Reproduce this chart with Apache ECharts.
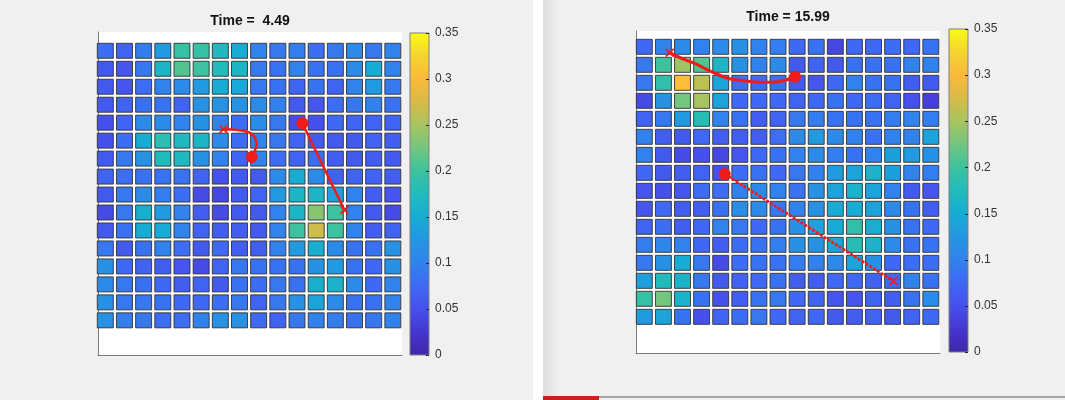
<!DOCTYPE html>
<html>
<head>
<meta charset="utf-8">
<script src="https://cdn.jsdelivr.net/npm/echarts@6/dist/echarts.min.js"></script>
<style>
  html, body { margin: 0; padding: 0; background: #f0f0f0; }
  #chart { width: 1065px; height: 400px; }
</style>
</head>
<body>
<div id="chart"></div>
<script>
// ---- data ---------------------------------------------------------------
const columns = [1, 2, 3, 4, 5, 6, 7, 8, 9, 10, 11, 12, 13, 14, 15, 16];
const rows    = [1, 2, 3, 4, 5, 6, 7, 8, 9, 10, 11, 12, 13, 14, 15, 16];
const colorbarTicks = [0, 0.05, 0.1, 0.15, 0.2, 0.25, 0.3, 0.35];
const timeA = '4.49';
const timeB = '15.99';

// cell values at t = 4.49 (row 1 = top)
const fieldA = [
  [0.08, 0.07, 0.095, 0.13, 0.195, 0.195, 0.17, 0.15, 0.1, 0.09, 0.095, 0.08, 0.09, 0.11, 0.09, 0.1],
  [0.06, 0.055, 0.09, 0.165, 0.21, 0.2, 0.175, 0.165, 0.09, 0.085, 0.1, 0.085, 0.085, 0.11, 0.15, 0.1],
  [0.06, 0.055, 0.08, 0.1, 0.11, 0.13, 0.15, 0.145, 0.09, 0.085, 0.07, 0.085, 0.07, 0.1, 0.13, 0.09],
  [0.06, 0.07, 0.085, 0.085, 0.07, 0.12, 0.12, 0.12, 0.11, 0.1, 0.06, 0.055, 0.08, 0.09, 0.1, 0.085],
  [0.05, 0.07, 0.11, 0.11, 0.1, 0.12, 0.1, 0.08, 0.11, 0.09, 0.045, 0.05, 0.075, 0.07, 0.07, 0.07],
  [0.05, 0.08, 0.15, 0.185, 0.17, 0.165, 0.11, 0.08, 0.1, 0.09, 0.07, 0.06, 0.06, 0.06, 0.07, 0.065],
  [0.06, 0.09, 0.12, 0.175, 0.17, 0.12, 0.1, 0.07, 0.1, 0.08, 0.07, 0.08, 0.065, 0.06, 0.065, 0.06],
  [0.07, 0.08, 0.085, 0.085, 0.085, 0.07, 0.05, 0.06, 0.06, 0.11, 0.15, 0.11, 0.07, 0.07, 0.07, 0.065],
  [0.06, 0.09, 0.11, 0.095, 0.08, 0.045, 0.04, 0.06, 0.07, 0.13, 0.165, 0.165, 0.135, 0.1, 0.065, 0.055],
  [0.045, 0.09, 0.155, 0.13, 0.1, 0.065, 0.045, 0.06, 0.06, 0.1, 0.165, 0.235, 0.2, 0.1, 0.06, 0.045],
  [0.06, 0.085, 0.15, 0.15, 0.1, 0.07, 0.065, 0.065, 0.06, 0.1, 0.2, 0.27, 0.2, 0.1, 0.065, 0.07],
  [0.09, 0.06, 0.085, 0.1, 0.08, 0.06, 0.075, 0.065, 0.065, 0.1, 0.13, 0.155, 0.11, 0.085, 0.085, 0.12],
  [0.12, 0.075, 0.07, 0.065, 0.055, 0.045, 0.07, 0.09, 0.085, 0.085, 0.085, 0.12, 0.13, 0.085, 0.075, 0.12],
  [0.11, 0.09, 0.085, 0.075, 0.065, 0.07, 0.06, 0.085, 0.08, 0.09, 0.085, 0.155, 0.16, 0.11, 0.075, 0.1],
  [0.12, 0.09, 0.09, 0.085, 0.075, 0.075, 0.08, 0.09, 0.07, 0.09, 0.12, 0.14, 0.11, 0.085, 0.085, 0.1],
  [0.12, 0.095, 0.09, 0.08, 0.08, 0.1, 0.12, 0.12, 0.075, 0.07, 0.09, 0.1, 0.095, 0.085, 0.09, 0.1]
];

// cell values at t = 15.99
const fieldB = [
  [0.075, 0.1, 0.11, 0.1, 0.11, 0.12, 0.1, 0.095, 0.075, 0.085, 0.04, 0.075, 0.075, 0.08, 0.075, 0.085],
  [0.09, 0.2, 0.245, 0.21, 0.165, 0.12, 0.1, 0.11, 0.06, 0.07, 0.06, 0.085, 0.085, 0.085, 0.1, 0.1],
  [0.09, 0.19, 0.305, 0.26, 0.14, 0.08, 0.075, 0.08, 0.06, 0.055, 0.075, 0.1, 0.085, 0.085, 0.065, 0.06],
  [0.045, 0.12, 0.225, 0.25, 0.14, 0.075, 0.075, 0.075, 0.07, 0.075, 0.085, 0.075, 0.08, 0.07, 0.05, 0.035],
  [0.07, 0.09, 0.13, 0.18, 0.1, 0.085, 0.065, 0.07, 0.09, 0.095, 0.085, 0.085, 0.085, 0.095, 0.1, 0.095],
  [0.1, 0.065, 0.06, 0.075, 0.065, 0.065, 0.065, 0.08, 0.11, 0.13, 0.11, 0.1, 0.085, 0.1, 0.1, 0.14],
  [0.1, 0.06, 0.045, 0.05, 0.04, 0.055, 0.075, 0.085, 0.1, 0.11, 0.095, 0.085, 0.1, 0.135, 0.13, 0.12],
  [0.075, 0.06, 0.065, 0.07, 0.05, 0.08, 0.085, 0.075, 0.09, 0.1, 0.13, 0.14, 0.16, 0.135, 0.1, 0.095],
  [0.055, 0.05, 0.055, 0.08, 0.08, 0.1, 0.11, 0.1, 0.085, 0.12, 0.14, 0.16, 0.14, 0.1, 0.06, 0.055],
  [0.055, 0.075, 0.065, 0.065, 0.085, 0.115, 0.11, 0.09, 0.1, 0.12, 0.15, 0.15, 0.14, 0.11, 0.085, 0.065],
  [0.07, 0.08, 0.065, 0.075, 0.1, 0.09, 0.075, 0.085, 0.12, 0.14, 0.15, 0.19, 0.155, 0.12, 0.085, 0.075],
  [0.095, 0.105, 0.1, 0.075, 0.065, 0.08, 0.085, 0.095, 0.12, 0.12, 0.14, 0.18, 0.16, 0.11, 0.085, 0.085],
  [0.09, 0.12, 0.15, 0.09, 0.045, 0.08, 0.085, 0.085, 0.095, 0.1, 0.11, 0.14, 0.12, 0.075, 0.08, 0.08],
  [0.135, 0.175, 0.16, 0.09, 0.06, 0.07, 0.075, 0.085, 0.065, 0.065, 0.075, 0.075, 0.07, 0.075, 0.1, 0.085],
  [0.195, 0.225, 0.16, 0.085, 0.05, 0.065, 0.085, 0.09, 0.075, 0.07, 0.055, 0.055, 0.07, 0.065, 0.085, 0.11],
  [0.13, 0.14, 0.085, 0.05, 0.07, 0.08, 0.09, 0.075, 0.07, 0.075, 0.06, 0.065, 0.07, 0.06, 0.07, 0.075]
];

// agent tracks in cell coordinates [column, row]; first point = start (x), last = current (dot)
const trackA1 = [[7.16, 5.37], [7.66, 5.38], [8.13, 5.44], [8.55, 5.57], [8.81, 5.85], [8.89, 6.19], [8.81, 6.53], [8.64, 6.91]];
const trackA2 = [[13.47, 9.86], [11.28, 5.03]];
const trackB1 = [[2.33, 1.33], [2.94, 1.64], [3.64, 1.92], [4.51, 2.38], [5.38, 2.75], [6.26, 2.9], [7.13, 2.97], [8.0, 2.94], [8.52, 2.81], [8.89, 2.66]];
const trackB2 = [[14.04, 14.01], [5.21, 8.07]];

// ---- styling ------------------------------------------------------------
const CMIN = 0, CMAX = 0.35;
const PARULA = ['#3e26a8', '#4536d0', '#4650ec', '#3f68f4', '#3182ec', '#2496e2', '#16acd4',
                '#22bbbc', '#3cc29e', '#72c67e', '#a8c45e', '#d8bb46', '#fbb93b', '#f5d42e', '#f9fb15'];
const RED = '#f01c1c';
const HALF = 0.417;
const X_MARK = 'path://M0,1.4L1.4,0L5,3.6L8.6,0L10,1.4L6.4,5L10,8.6L8.6,10L5,6.4L1.4,10L0,8.6L3.6,5Z';
const FONT = '"Liberation Sans", Arial, Helvetica, sans-serif';

function cellData(field) {
  const out = [];
  rows.forEach((r, ri) => columns.forEach((c, ci) => out.push([c, r, field[ri][ci]])));
  return out;
}

function renderCell(params, api) {
  const c = api.value(0), r = api.value(1);
  const a = api.coord([c - HALF, r - HALF]);
  const b = api.coord([c + HALF, r + HALF]);
  return {
    type: 'rect',
    shape: { x: Math.min(a[0], b[0]), y: Math.min(a[1], b[1]), width: Math.abs(b[0] - a[0]), height: Math.abs(b[1] - a[1]) },
    style: { fill: api.visual('color'), stroke: 'rgba(50,50,50,0.9)', lineWidth: 1 }
  };
}

// colour bar: gradient strip plus short inward ticks on its right edge
function renderColorbar(params, api) {
  const t = api.coord([0, CMAX]);
  const b = api.coord([1, CMIN]);
  const stops = PARULA.map((c, i) => ({ offset: i / (PARULA.length - 1), color: c }));
  const children = [{
    type: 'rect',
    shape: { x: t[0], y: t[1], width: b[0] - t[0], height: b[1] - t[1] },
    style: { fill: new echarts.graphic.LinearGradient(0, 1, 0, 0, stops), stroke: '#808080', lineWidth: 1 }
  }];
  colorbarTicks.forEach(v => {
    const p = api.coord([1, v]);
    const y = Math.round(p[1]) + 0.5;
    children.push({ type: 'line', shape: { x1: p[0] - 3, y1: y, x2: p[0], y2: y }, style: { stroke: '#262626', lineWidth: 1 } });
  });
  return { type: 'group', children };
}

function trackData(track) {
  return track.map((p, i) => {
    if (i === 0) return { value: p, symbol: X_MARK, symbolSize: 9 };
    if (i === track.length - 1) return { value: p, symbol: 'circle', symbolSize: 12 };
    return { value: p, symbol: 'none' };
  });
}

function trackSeries(track, axis, width, type) {
  return {
    type: 'line', xAxisIndex: axis, yAxisIndex: axis, data: trackData(track),
    smooth: 0.35, showAllSymbol: true, z: 5,
    lineStyle: { color: RED, width: width, type: type || 'solid', cap: 'round' },
    itemStyle: { color: RED }
  };
}

function mainX(min, max, idx) {
  return { type: 'value', gridIndex: idx, min, max, axisLine: { show: true, onZero: false, lineStyle: { color: '#7a7a7a', width: 1 } },
           axisTick: { show: false }, axisLabel: { show: false }, splitLine: { show: false } };
}
function mainY(min, max, idx) {
  return { type: 'value', gridIndex: idx, min, max, inverse: true, axisLine: { show: true, onZero: false, lineStyle: { color: '#7a7a7a', width: 1 } },
           axisTick: { show: false }, axisLabel: { show: false }, splitLine: { show: false } };
}
function barX(idx) { return { type: 'value', gridIndex: idx, min: 0, max: 1, show: false }; }
function barY(idx) {
  return {
    type: 'value', gridIndex: idx, position: 'right', min: CMIN, max: CMAX, interval: 0.05,
    axisLine: { show: false },
    axisTick: { show: false },
    axisLabel: { show: true, margin: 6, color: '#333', fontSize: 12, fontFamily: FONT, showMinLabel: true, showMaxLabel: true,
                 formatter: v => { const t = colorbarTicks.find(k => Math.abs(k - v) < 1e-6); return t === undefined ? '' : String(t); } },
    splitLine: { show: false }
  };
}

const chart = echarts.init(document.getElementById('chart'), null, { renderer: 'canvas' });
chart.setOption({
  animation: false,
  backgroundColor: '#f0f0f0',
  grid: [
    { left: 98, top: 32, width: 304, height: 323, show: true, backgroundColor: '#ffffff', borderWidth: 0 },
    { left: 410, top: 33, width: 19, height: 322 },
    { left: 636, top: 31, width: 304, height: 322, show: true, backgroundColor: '#ffffff', borderWidth: 0 },
    { left: 949, top: 29, width: 19, height: 323 }
  ],
  xAxis: [mainX(0.619, 16.477, 0), barX(1), mainX(0.565, 16.48, 2), barX(3)],
  yAxis: [mainY(-0.046, 17.93, 0), barY(1), mainY(0.122, 18.01, 2), barY(3)],
  visualMap: {
    show: false, type: 'continuous', min: CMIN, max: CMAX, dimension: 2, seriesIndex: [0, 1],
    inRange: { color: PARULA }
  },
  graphic: [
    { type: 'rect', shape: { x: 533, y: 0, width: 10, height: 400 }, style: { fill: '#ffffff' }, z: -1 },
    { type: 'rect', shape: { x: 543, y: 0, width: 16, height: 396 },
      style: { fill: new echarts.graphic.LinearGradient(0, 0, 1, 0, [{ offset: 0, color: '#dedede' }, { offset: 1, color: '#f0f0f0' }]) }, z: -1 },
    { type: 'rect', shape: { x: 543, y: 396, width: 56, height: 4 }, style: { fill: '#c8201c' } },
    { type: 'rect', shape: { x: 599, y: 396, width: 466, height: 2 }, style: { fill: '#a6a6a6' } },
    { type: 'text', x: 250, y: 21, style: { text: 'Time =  ' + timeA, font: 'bold 14px ' + FONT, fill: '#111', align: 'center', verticalAlign: 'middle' } },
    { type: 'text', x: 788, y: 17, style: { text: 'Time = ' + timeB, font: 'bold 14px ' + FONT, fill: '#111', align: 'center', verticalAlign: 'middle' } }
  ],
  series: [
    { type: 'custom', xAxisIndex: 0, yAxisIndex: 0, renderItem: renderCell, data: cellData(fieldA), z: 2 },
    { type: 'custom', xAxisIndex: 2, yAxisIndex: 2, renderItem: renderCell, data: cellData(fieldB), z: 2 },
    { type: 'custom', xAxisIndex: 1, yAxisIndex: 1, renderItem: renderColorbar, data: [[0, 0]], z: 2 },
    { type: 'custom', xAxisIndex: 3, yAxisIndex: 3, renderItem: renderColorbar, data: [[0, 0]], z: 2 },
    trackSeries(trackA1, 0, 2.5),
    trackSeries(trackA2, 0, 2.5),
    trackSeries(trackB1, 2, 3.2),
    trackSeries(trackB2, 2, 3, [0.5, 4])
  ]
});
</script>
</body>
</html>
